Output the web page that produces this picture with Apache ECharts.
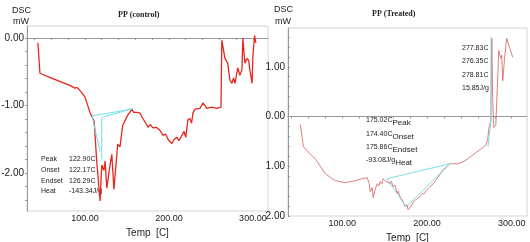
<!DOCTYPE html>
<html>
<head>
<meta charset="utf-8">
<script src="https://cdn.jsdelivr.net/npm/echarts@6/dist/echarts.min.js"></script>
<style>
  html, body { margin: 0; padding: 0; background: #fff; }
  #chart { width: 530px; height: 242px; }
</style>
</head>
<body>
<div id="chart"></div>
<script>
// --- PP (control) curve ---
const leftTemp = [44, 46.4, 58, 70, 82, 88, 90.5, 93, 100, 106, 111, 114, 118, 120, 122.6, 124, 126, 130, 132, 134.5,
  137, 139, 141.7, 145, 151, 156, 158, 162, 165.5, 169, 172, 175, 178, 181, 185, 189, 193, 196, 199, 203.6,
  206, 209.5, 212, 214, 218, 220, 222.6, 225, 227, 228.6, 231, 237, 240.5, 243, 245, 251, 257, 262, 263, 266.7,
  270, 272.6, 275, 277, 278.6, 282, 284.5, 287, 288, 290.5, 293, 295, 296.4, 299, 300, 302, 303.5]
const leftDsc = [-0.07, -0.52, -0.58, -0.64, -0.70, -0.74, -0.73, -0.76, -0.87, -1.10, -1.23, -1.82, -2.41, -1.88, -1.96, -1.82, -2.22, -1.87, -1.72, -2.24,
  -1.87, -1.57, -1.61, -1.29, -1.14, -1.05, -1.10, -1.10, -1.11, -1.19, -1.25, -1.32, -1.28, -1.33, -1.32, -1.36, -1.44, -1.42, -1.50, -1.56,
  -1.50, -1.47, -1.52, -1.50, -1.38, -1.47, -1.21, -1.19, -1.26, -1.11, -1.05, -1.04, -0.96, -1.00, -1.04, -1.02, -1.04, -1.02, -0.03, -0.30,
  -0.37, -0.62, -0.67, -0.59, -0.67, -0.44, -0.55, -0.47, 0.00, -0.37, -0.30, -0.33, -0.47, -0.67, -0.28, 0.04, -0.07]
// baseline / tangent construction lines (pairs of [temp, dsc])
const leftCyan = [
  [[108.5, -1.15], [157, -1.05]],
  [[121.5, -1.17], [157, -1.04]],
  [[108.5, -1.15], [117.9, -1.68]],
  [[120, -1.17], [120, -1.80]],
]

// --- PP (Treated) curve ---
const rightTemp = [50.6, 54.1, 60, 68.2, 80, 91.8, 103.5, 115.3, 123.5, 129.4, 131.8, 133, 135.3, 136.5, 138.8, 141.2, 143, 144.7, 146.5, 148.2,
  150.6, 152.9, 156.5, 158, 160, 162.4, 164.7, 166, 168.2, 170.6, 171.8, 174.1, 176.5, 177.6, 180, 182.4, 184, 185.9, 187.5, 189.4,
  191.8, 193.5, 195.3, 197, 198.8, 201, 203.5, 206, 208.2, 211.8, 215.3, 218.8, 223.5, 227, 230.6, 236.5, 242.4, 248.2, 256.5, 264.7,
  269.4, 271.8, 272.9, 275.3, 276.5, 277.6, 278.8, 281.2, 284.7, 287, 288.2, 289.4, 290.6, 291.8, 294.1, 297.6, 301.2]
const rightDsc = [-0.16, -0.60, -0.72, -0.85, -1.15, -1.29, -1.33, -1.29, -1.25, -1.23, -1.35, -1.51, -1.43, -1.63, -1.47, -1.35, -1.40, -1.31, -1.36, -1.25,
  -1.29, -1.25, -1.35, -1.30, -1.41, -1.38, -1.55, -1.50, -1.61, -1.67, -1.64, -1.81, -1.77, -1.87, -1.83, -1.77, -1.72, -1.71, -1.66, -1.63,
  -1.61, -1.56, -1.53, -1.55, -1.49, -1.46, -1.41, -1.38, -1.33, -1.25, -1.17, -1.07, -1.01, -0.95, -0.95, -0.95, -0.91, -0.85, -0.74, -0.64,
  -0.58, -0.44, -0.24, -0.08, 1.57, 0.32, -0.22, -0.18, 1.33, 1.17, 1.23, 0.72, 0.68, 1.23, 1.57, 1.37, 1.19]
const rightCyan = [
  [[152.9, -1.25], [227, -0.95]],
  [[152.9, -1.25], [175.3, -1.82]],
  [[175.3, -1.82], [227, -0.95]],
  [[275.5, 1.6], [275.5, -0.1]],
  [[275.5, -0.1], [272, -0.6]],
]

const axisFont = { fontFamily: 'Liberation Sans', fontSize: 9, color: '#222' }
const lblFont = 'Liberation Sans'

function pairs(xs, ys) { return xs.map((x, i) => [x, ys[i]]) }
function steps(from, to, step) {
  const out = []
  for (let v = from; v <= to + 1e-9; v += step) out.push(Math.round(v * 100) / 100)
  return out
}

const chart = echarts.init(document.getElementById('chart'), null, { renderer: 'canvas' })

const cyanSeries = (segs, idx, color) => segs.map(s => ({
  type: 'line', xAxisIndex: idx, yAxisIndex: idx, data: s, symbol: 'none', silent: true,
  lineStyle: { color, width: 1 }, z: 3,
}))

function xAxisCfg(idx, min, max, gap) {
  return {
    type: 'value', gridIndex: idx, min, max,
    name: 'Temp  [C]', nameLocation: 'middle', nameGap: gap,
    nameTextStyle: { fontFamily: lblFont, fontSize: 10, color: '#222' },
    axisLine: { show: true, lineStyle: { color: '#999' } },
    axisTick: { customValues: steps(40, 300, 20), length: 2, lineStyle: { color: '#999' } },
    axisLabel: { customValues: [100, 200, 300], formatter: v => v.toFixed(2), margin: 3, ...axisFont },
    splitLine: { show: false },
  }
}

chart.setOption({
  animation: false,
  backgroundColor: '#fff',
  grid: [
    { left: 27, top: 26, width: 241, height: 185, show: true, borderColor: '#d4d4d4', borderWidth: 1, outerBoundsMode: 'none' },
    { left: 288, top: 28, width: 239, height: 188, show: true, borderColor: '#d4d4d4', borderWidth: 1, outerBoundsMode: 'none' },
  ],
  xAxis: [xAxisCfg(0, 31, 318, 13), xAxisCfg(1, 36, 318, 14)],
  yAxis: [
    {
      type: 'value', gridIndex: 0, min: -2.56, max: 0.18,
      axisLine: { show: true, lineStyle: { color: '#999' } },
      axisTick: { customValues: steps(-2.4, 0, 0.2), length: 2, lineStyle: { color: '#999' } },
      axisLabel: { customValues: [-2, -1, 0], formatter: v => v.toFixed(2), margin: 3, ...axisFont, fontSize: 10 },
      splitLine: { show: false },
    },
    {
      type: 'value', gridIndex: 1, min: -2, max: 1.78,
      axisLine: { show: true, lineStyle: { color: '#999' } },
      axisTick: { customValues: steps(-2, 1.6, 0.2), length: 2, inside: true, lineStyle: { color: '#999' } },
      axisLabel: { customValues: [-2, -1, 0, 1], formatter: v => Math.abs(v).toFixed(2), margin: 3, ...axisFont, fontSize: 10 },
      splitLine: { show: false },
    },
  ],
  series: [
    {
      type: 'line', xAxisIndex: 0, yAxisIndex: 0, data: pairs(leftTemp, leftDsc),
      symbol: 'none', lineStyle: { color: '#e8261c', width: 1.3 }, z: 2,
    },
    ...cyanSeries(leftCyan, 0, '#6fe0ea'),
    {
      type: 'line', xAxisIndex: 1, yAxisIndex: 1, data: pairs(rightTemp, rightDsc),
      symbol: 'none', lineStyle: { color: '#d4605c', width: 0.8 }, z: 2,
    },
    ...cyanSeries(rightCyan, 1, '#7adfe8'),
  ],
  graphic: [
    // axis unit captions
    { type: 'text', left: 12, top: 6, style: { text: 'DSC', font: '9px Liberation Sans', fill: '#222' } },
    { type: 'text', left: 13, top: 17, style: { text: 'mW', font: '9px Liberation Sans', fill: '#222' } },
    { type: 'text', left: 274, top: 5, style: { text: 'DSC', font: '9px Liberation Sans', fill: '#222' } },
    { type: 'text', left: 275, top: 17, style: { text: 'mW', font: '9px Liberation Sans', fill: '#222' } },
    // titles
    { type: 'text', left: 118, top: 11, style: { text: 'PP (control)', font: 'bold 8px Liberation Serif', fill: '#222' } },
    { type: 'text', left: 372, top: 10, style: { text: 'PP (Treated)', font: 'bold 8px Liberation Serif', fill: '#222' } },
    // control annotation
    ...['Peak', 'Onset', 'Endset', 'Heat'].map((t, i) => ({
      type: 'text', left: 41, top: [156, 167, 178, 188][i], style: { text: t, font: '7px Liberation Sans', fill: '#222' },
    })),
    ...['122.90C', '122.17C', '126.29C', '-143.34J/g'].map((t, i) => ({
      type: 'text', left: 69, top: [156, 167, 178, 188][i], style: { text: t, font: '7px Liberation Sans', fill: '#222' },
    })),
    // treated annotation, endotherm near 278
    ...['277.83C', '276.35C', '278.81C', '15.85J/g'].map((t, i) => ({
      type: 'text', left: 462, top: [45, 58, 72, 85][i], style: { text: t, font: '7px Liberation Sans', fill: '#222' },
    })),
    // treated annotation, melting region
    ...[['175.02C', 'Peak'], ['174.40C', 'Onset'], ['175.86C', 'Endset'], ['-93.08J/g', 'Heat']].map((p, i) => ({
      type: 'text', left: 366, top: [117, 131, 144, 157][i],
      style: {
        text: '{a|' + p[0] + '}{b|' + p[1] + '}',
        rich: {
          a: { font: '7px Liberation Sans', fill: '#222', lineHeight: 10, verticalAlign: 'top' },
          b: { font: '8px Liberation Sans', fill: '#222', lineHeight: 10, verticalAlign: 'bottom' },
        },
      },
    })),
  ],
})
</script>
</body>
</html>
